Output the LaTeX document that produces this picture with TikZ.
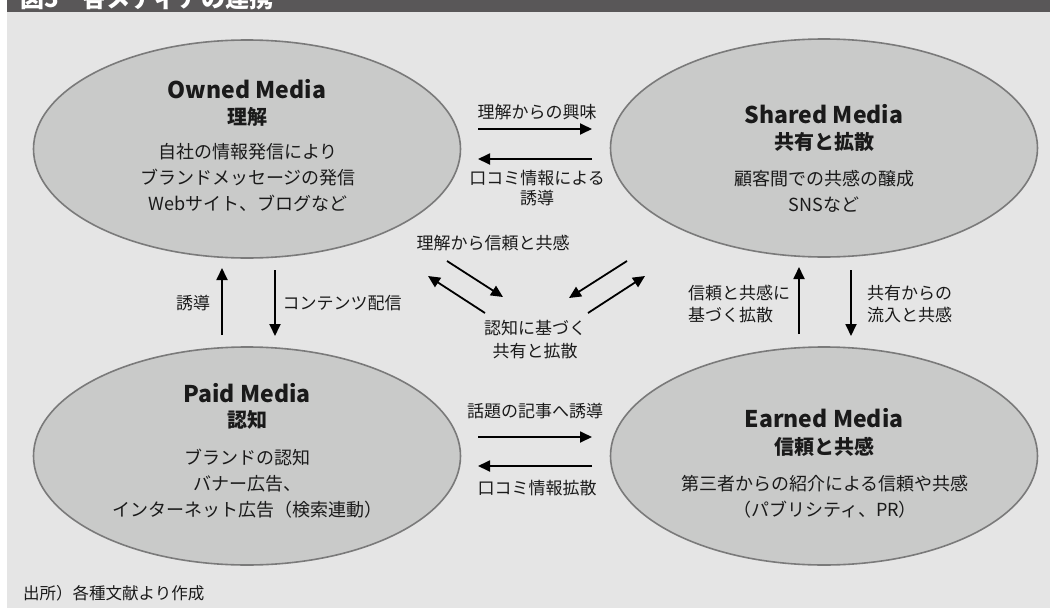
\documentclass[tikz,border=0pt]{standalone}
\usepackage{fontspec}
\setmainfont{Noto Sans CJK JP}
\usetikzlibrary{arrows.meta,shapes.geometric}
\definecolor{bg}{HTML}{E5E5E5}
\definecolor{hdr}{HTML}{595758}
\definecolor{ellfill}{HTML}{C9CAC9}
\definecolor{ellline}{HTML}{7A7A7A}
\definecolor{ink}{HTML}{1A1A1A}
\begin{document}
\begin{tikzpicture}[x=1pt,y=-1pt,
  media/.style={ellipse,draw=ellline,line width=1.6pt,fill=ellfill,minimum width=427pt,minimum height=218pt,inner sep=0pt},
  mtitle/.style={inner sep=0pt,text=ink,font=\fontsize{23}{26}\selectfont\bfseries},
  msub/.style={inner sep=0pt,text=ink,font=\fontsize{20}{24}\selectfont\bfseries},
  mbody/.style={inner sep=0pt,text=ink,align=center,font=\fontsize{18}{26}\selectfont},
  lbl/.style={inner sep=0pt,text=ink,align=center,font=\fontsize{17}{20}\selectfont},
  lbll/.style={inner sep=0pt,text=ink,align=left,anchor=west,font=\fontsize{17}{22}\selectfont},
  conn/.style={line width=1.8pt,draw=black,-{Triangle[length=12pt,width=11pt]}}]
\useasboundingbox (0,0) rectangle (1050,608);
\clip (0,0) rectangle (1050,608);
\fill[white] (0,0) rectangle (1050,608);
\fill[bg] (7,0) rectangle (1050,608);
\fill[hdr] (7,0) rectangle (1050,12);
\node[anchor=base west,inner sep=0pt,text=white,font=\fontsize{24}{28}\selectfont\bfseries] (hdrtxt) at (20,7.5) {図5　各メディアの連携};
% ellipses
\node[media] (owned) at (247,149) {};
\node[media] (shared) at (824,148) {};
\node[media] (paid) at (247,456) {};
\node[media] (earned) at (824,456) {};
% owned
\node[mtitle] (ot) at (247,89) {Owned Media};
\node[msub] (os) at (247,117) {理解};
\node[mbody] (ob) at (248,178) {自社の情報発信により\\ブランドメッセージの発信\\Webサイト、ブログなど};
% shared
\node[mtitle] (st) at (824,114) {Shared Media};
\node[msub] (ss) at (824,142) {共有と拡散};
\node[mbody] (sb) at (824,191.5) {顧客間での共感の醸成\\SNSなど};
% paid
\node[mtitle] (pt) at (247,393) {Paid Media};
\node[msub] (ps) at (247,420) {認知};
\node[mbody] (pb) at (247,484) {ブランドの認知\\バナー広告、\\インターネット広告（検索連動）};
% earned
\node[mtitle] (et) at (824,418) {Earned Media};
\node[msub] (es) at (824,447) {信頼と共感};
\node[mbody] (eb) at (825,496.5) {第三者からの紹介による信頼や共感\\（パブリシティ、PR）};
% arrow end coordinates
\coordinate (a1s) at (478,129); \coordinate (a1e) at (592,129);
\coordinate (a2s) at (592,159); \coordinate (a2e) at (478,159);
\coordinate (b1s) at (478,437); \coordinate (b1e) at (592,437);
\coordinate (b2s) at (592,466); \coordinate (b2e) at (478,466);
\coordinate (l1s) at (222,335); \coordinate (l1e) at (222,268);
\coordinate (l2s) at (275,270); \coordinate (l2e) at (275,336);
\coordinate (r1s) at (799,334); \coordinate (r1e) at (799,267);
\coordinate (r2s) at (851,270); \coordinate (r2e) at (851,336);
\coordinate (d1s) at (447,261); \coordinate (d1e) at (503,297);
\coordinate (d2s) at (485,313); \coordinate (d2e) at (428,276);
\coordinate (d3s) at (627,261); \coordinate (d3e) at (569,298);
\coordinate (d4s) at (588,313); \coordinate (d4e) at (645,276);
\draw[conn] (a1s) -- (a1e);
\draw[conn] (a2s) -- (a2e);
\draw[conn] (b1s) -- (b1e);
\draw[conn] (b2s) -- (b2e);
\draw[conn] (l1s) -- (l1e);
\draw[conn] (l2s) -- (l2e);
\draw[conn] (r1s) -- (r1e);
\draw[conn] (r2s) -- (r2e);
\draw[conn] (d1s) -- (d1e);
\draw[conn] (d2s) -- (d2e);
\draw[conn] (d3s) -- (d3e);
\draw[conn] (d4s) -- (d4e);
% labels
\node[lbl] (la1) at (537,112) {理解からの興味};
\node[lbl] (la2) at (537,188.5) {口コミ情報による\\誘導};
\node[lbl] (lb1) at (535,411) {話題の記事へ誘導};
\node[lbl] (lb2) at (537,488) {口コミ情報拡散};
\node[lbl] (ll1) at (193,303) {誘導};
\node[lbl] (ll2) at (342,303) {コンテンツ配信};
\node[lbll] (lr1) at (688,304) {信頼と共感に\\基づく拡散};
\node[lbll] (lr2) at (867,304) {共有からの\\流入と共感};
\node[lbl] (lc1) at (493,243) {理解から信頼と共感};
\node[lbl,font=\fontsize{17}{23}\selectfont] (lc2) at (535,339.5) {認知に基づく\\共有と拡散};
\node[anchor=west,inner sep=0pt,text=ink,font=\fontsize{16.5}{20}\selectfont] (src) at (23,593) {出所）各種文献より作成};
\end{tikzpicture}
\end{document}
